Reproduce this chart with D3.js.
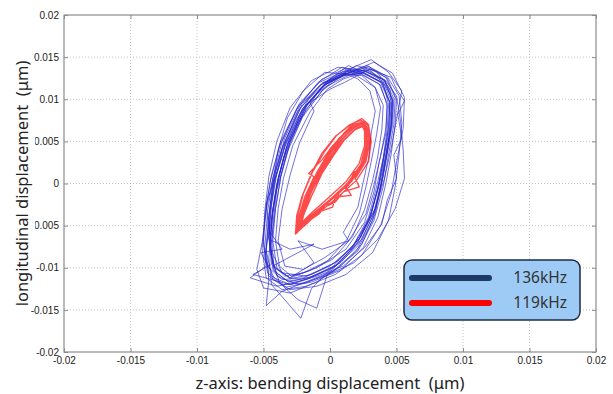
<!DOCTYPE html>
<html>
<head>
<meta charset="utf-8">
<script src="https://cdn.jsdelivr.net/npm/d3@7"></script>
<style>
  body { margin: 0; background: #fff; }
  svg { display: block; }
</style>
</head>
<body>
<div id="chart"></div>
<script>
// tick values / labels
var xTicks = [-0.02, -0.015, -0.01, -0.005, 0, 0.005, 0.01, 0.015, 0.02],
    xTickLabels = ['-0.02', '-0.015', '-0.01', '-0.005', '0', '0.005', '0.01', '0.015', '0.02'],
    yTicks = [-0.02, -0.015, -0.01, -0.005, 0, 0.005, 0.01, 0.015, 0.02],
    yTickLabels = ['-0.02', '-0.015', '-0.01', '-0.005', '0', '0.005', '0.01', '0.015', '0.02'],
    seriesNames = ['136kHz', '119kHz'];

var blueLoops = [
    [[0.0025,0.0132],[0.0039,0.0120],[0.0045,0.0097],[0.0044,0.0068],[0.0041,0.0035],[0.0037,0.0002],[0.0031,-0.0035],[0.0021,-0.0070],[0.0005,-0.0097],[-0.0015,-0.0111],[-0.0031,-0.0117],[-0.0042,-0.0104],[-0.0045,-0.0072],[-0.0043,-0.0032],[-0.0039,0.0005],[-0.0032,0.0047],[-0.0019,0.0090],[-0.0004,0.0118],[0.0011,0.0130]],
    [[0.0028,0.0138],[0.0043,0.0125],[0.0050,0.0100],[0.0049,0.0070],[0.0046,0.0035],[0.0042,0.0000],[0.0036,-0.0040],[0.0025,-0.0076],[0.0008,-0.0103],[-0.0014,-0.0117],[-0.0033,-0.0123],[-0.0046,-0.0110],[-0.0049,-0.0076],[-0.0047,-0.0034],[-0.0043,0.0006],[-0.0036,0.0050],[-0.0023,0.0095],[-0.0006,0.0124],[0.0011,0.0136]],
    [[0.0022,0.0126],[0.0034,0.0114],[0.0040,0.0093],[0.0039,0.0064],[0.0036,0.0033],[0.0032,0.0003],[0.0026,-0.0031],[0.0017,-0.0063],[0.0002,-0.0090],[-0.0016,-0.0104],[-0.0029,-0.0110],[-0.0038,-0.0098],[-0.0041,-0.0068],[-0.0039,-0.0030],[-0.0035,0.0006],[-0.0028,0.0045],[-0.0015,0.0085],[-0.0002,0.0112],[0.0010,0.0124]],
    [[0.0030,0.0135],[0.0041,0.0118],[0.0047,0.0101],[0.0046,0.0070],[0.0043,0.0038],[0.0039,0.0004],[0.0034,-0.0032],[0.0024,-0.0066],[0.0008,-0.0094],[-0.0012,-0.0110],[-0.0030,-0.0120],[-0.0058,-0.0108],[-0.0044,-0.0096],[-0.0046,-0.0062],[-0.0042,-0.0024],[-0.0038,0.0012],[-0.0031,0.0052],[-0.0018,0.0093],[-0.0002,0.0119],[0.0014,0.0131]],
    [[0.0033,0.0144],[0.0047,0.0131],[0.0056,0.0102],[0.0055,0.0065],[0.0050,0.0025],[0.0046,-0.0012],[0.0038,-0.0050],[0.0024,-0.0085],[0.0004,-0.0108],[-0.0018,-0.0122],[-0.0036,-0.0126],[-0.0048,-0.0112],[-0.0051,-0.0078],[-0.0049,-0.0038],[-0.0045,0.0002],[-0.0038,0.0044],[-0.0025,0.0088],[-0.0009,0.0120],[0.0009,0.0138]],
    [[0.0026,0.0131],[0.0040,0.0119],[0.0044,0.0094],[0.0043,0.0064],[0.0040,0.0030],[0.0035,-0.0004],[0.0029,-0.0040],[0.0017,-0.0075],[0.0000,-0.0102],[-0.0014,-0.0125],[-0.0022,-0.0160],[-0.0034,-0.0138],[-0.0044,-0.0120],[-0.0046,-0.0088],[-0.0044,-0.0050],[-0.0041,-0.0012],[-0.0035,0.0030],[-0.0024,0.0072],[-0.0010,0.0106],[0.0004,0.0124],[0.0016,0.0133]],
    [[0.0024,0.0129],[0.0037,0.0118],[0.0043,0.0095],[0.0042,0.0066],[0.0038,0.0032],[0.0033,-0.0002],[0.0027,-0.0036],[0.0014,-0.0068],[-0.0006,-0.0078],[-0.0024,-0.0068],[-0.0012,-0.0094],[-0.0030,-0.0112],[-0.0042,-0.0100],[-0.0044,-0.0068],[-0.0041,-0.0030],[-0.0037,0.0008],[-0.0030,0.0048],[-0.0018,0.0088],[-0.0003,0.0115],[0.0012,0.0127]],
    [[0.0027,0.0136],[0.0041,0.0123],[0.0047,0.0098],[0.0046,0.0068],[0.0042,0.0034],[0.0038,-0.0002],[0.0032,-0.0040],[0.0021,-0.0074],[0.0003,-0.0100],[-0.0018,-0.0114],[-0.0040,-0.0122],[-0.0060,-0.0112],[-0.0048,-0.0098],[-0.0050,-0.0066],[-0.0048,-0.0028],[-0.0044,0.0010],[-0.0037,0.0050],[-0.0024,0.0092],[-0.0008,0.0120],[0.0010,0.0133]],
    [[0.0031,0.0147],[0.0044,0.0132],[0.0054,0.0110],[0.0050,0.0076],[0.0046,0.0042],[0.0041,0.0006],[0.0034,-0.0030],[0.0023,-0.0064],[0.0006,-0.0092],[-0.0014,-0.0108],[-0.0030,-0.0113],[-0.0040,-0.0100],[-0.0043,-0.0068],[-0.0041,-0.0030],[-0.0037,0.0008],[-0.0030,0.0050],[-0.0017,0.0094],[-0.0002,0.0122],[0.0014,0.0140]],
    [[0.0024,0.0132],[0.0038,0.0120],[0.0045,0.0096],[0.0045,0.0064],[0.0042,0.0030],[0.0038,-0.0006],[0.0032,-0.0044],[0.0020,-0.0080],[0.0002,-0.0104],[-0.0020,-0.0118],[-0.0036,-0.0128],[-0.0048,-0.0145],[-0.0046,-0.0114],[-0.0048,-0.0078],[-0.0046,-0.0038],[-0.0042,0.0002],[-0.0034,0.0044],[-0.0021,0.0088],[-0.0005,0.0116],[0.0011,0.0130]],
    [[0.0029,0.0139],[0.0043,0.0127],[0.0052,0.0104],[0.0054,0.0072],[0.0052,0.0036],[0.0049,-0.0004],[0.0044,-0.0044],[0.0032,-0.0082],[0.0012,-0.0108],[-0.0010,-0.0122],[-0.0030,-0.0126],[-0.0043,-0.0114],[-0.0048,-0.0080],[-0.0046,-0.0040],[-0.0043,0.0000],[-0.0036,0.0042],[-0.0024,0.0086],[-0.0008,0.0116],[0.0010,0.0133]],
    [[0.0026,0.0134],[0.0040,0.0121],[0.0046,0.0098],[0.0045,0.0067],[0.0041,0.0034],[0.0037,0.0000],[0.0031,-0.0037],[0.0020,-0.0072],[0.0004,-0.0098],[-0.0016,-0.0112],[-0.0032,-0.0116],[-0.0043,-0.0102],[-0.0045,-0.0070],[-0.0043,-0.0031],[-0.0039,0.0006],[-0.0031,0.0048],[-0.0018,0.0091],[-0.0003,0.0119],[0.0012,0.0131]],
    [[0.0021,0.0124],[0.0030,0.0110],[0.0034,0.0086],[0.0031,0.0060],[0.0029,0.0030],[0.0025,0.0002],[0.0021,-0.0028],[0.0010,-0.0058],[0.0014,-0.0068],[-0.0004,-0.0088],[-0.0020,-0.0102],[-0.0034,-0.0098],[-0.0039,-0.0068],[-0.0036,-0.0030],[-0.0030,0.0010],[-0.0023,0.0048],[-0.0012,0.0086],[-0.0015,0.0096],[0.0000,0.0112],[0.0011,0.0120]],
    [[0.0030,0.0136],[0.0046,0.0126],[0.0050,0.0112],[0.0056,0.0098],[0.0051,0.0082],[0.0054,0.0054],[0.0048,0.0034],[0.0050,0.0006],[0.0043,-0.0020],[0.0039,-0.0048],[0.0026,-0.0076],[0.0010,-0.0098],[-0.0010,-0.0110],[-0.0030,-0.0120],[-0.0042,-0.0112],[-0.0049,-0.0088],[-0.0046,-0.0056],[-0.0048,-0.0024],[-0.0040,0.0012],[-0.0036,0.0040],[-0.0026,0.0074],[-0.0016,0.0100],[-0.0002,0.0121],[0.0014,0.0135]],
    [[0.0024,0.0130],[0.0038,0.0117],[0.0043,0.0092],[0.0042,0.0060],[0.0037,0.0026],[0.0033,-0.0010],[0.0026,-0.0046],[0.0012,-0.0078],[-0.0010,-0.0100],[-0.0030,-0.0112],[-0.0043,-0.0098],[-0.0012,-0.0072],[-0.0030,-0.0078],[-0.0046,-0.0066],[-0.0045,-0.0032],[-0.0041,0.0006],[-0.0033,0.0048],[-0.0020,0.0090],[-0.0004,0.0117],[0.0011,0.0128]],
    [[0.0026,0.0133],[0.0041,0.0123],[0.0048,0.0101],[0.0047,0.0070],[0.0043,0.0036],[0.0039,0.0002],[0.0034,-0.0036],[0.0024,-0.0072],[0.0008,-0.0098],[-0.0010,-0.0117],[-0.0030,-0.0130],[-0.0050,-0.0124],[-0.0055,-0.0102],[-0.0051,-0.0070],[-0.0048,-0.0032],[-0.0043,0.0006],[-0.0035,0.0046],[-0.0022,0.0090],[-0.0006,0.0118],[0.0012,0.0132]],
    [[0.0020,0.0140],[0.0035,0.0133],[0.0045,0.0112],[0.0047,0.0080],[0.0044,0.0044],[0.0040,0.0008],[0.0034,-0.0030],[0.0022,-0.0066],[0.0004,-0.0094],[-0.0018,-0.0110],[-0.0036,-0.0106],[-0.0045,-0.0078],[-0.0046,-0.0040],[-0.0043,0.0000],[-0.0039,0.0040],[-0.0032,0.0078],[-0.0020,0.0110],[-0.0004,0.0132]],
    [[0.0024,0.0128],[0.0034,0.0114],[0.0038,0.0090],[0.0035,0.0058],[0.0031,0.0026],[0.0027,-0.0004],[0.0022,-0.0036],[0.0013,-0.0066],[-0.0002,-0.0092],[-0.0020,-0.0106],[-0.0034,-0.0110],[-0.0043,-0.0096],[-0.0046,-0.0064],[-0.0044,-0.0026],[-0.0040,0.0012],[-0.0033,0.0052],[-0.0021,0.0094],[-0.0006,0.0119],[0.0010,0.0128]],
    [[0.0025,0.0131],[0.0039,0.0120],[0.0045,0.0096],[0.0044,0.0064],[0.0040,0.0030],[0.0036,-0.0006],[0.0029,-0.0044],[0.0015,-0.0080],[-0.0002,-0.0108],[-0.0010,-0.0148],[-0.0024,-0.0138],[-0.0038,-0.0118],[-0.0044,-0.0086],[-0.0043,-0.0048],[-0.0040,-0.0008],[-0.0033,0.0034],[-0.0021,0.0078],[-0.0006,0.0110],[0.0010,0.0129]],
    [[0.0027,0.0135],[0.0041,0.0122],[0.0047,0.0099],[0.0046,0.0068],[0.0042,0.0034],[0.0037,-0.0002],[0.0030,-0.0040],[0.0018,-0.0074],[0.0000,-0.0098],[-0.0020,-0.0112],[-0.0036,-0.0114],[-0.0046,-0.0100],[-0.0052,-0.0082],[-0.0036,-0.0078],[-0.0046,-0.0056],[-0.0044,-0.0022],[-0.0041,0.0014],[-0.0034,0.0054],[-0.0022,0.0094],[-0.0005,0.0120],[0.0013,0.0133]],
    [[0.0028,0.0140],[0.0042,0.0126],[0.0049,0.0102],[0.0048,0.0070],[0.0044,0.0034],[0.0040,-0.0004],[0.0033,-0.0044],[0.0021,-0.0080],[0.0003,-0.0104],[-0.0018,-0.0118],[-0.0035,-0.0120],[-0.0047,-0.0106],[-0.0050,-0.0072],[-0.0049,-0.0032],[-0.0046,0.0008],[-0.0040,0.0050],[-0.0030,0.0090],[-0.0014,0.0122],[0.0006,0.0138]],
    [[0.0026,0.0134],[0.0042,0.0122],[0.0050,0.0104],[0.0053,0.0074],[0.0055,0.0040],[0.0056,0.0006],[0.0049,-0.0030],[0.0036,-0.0066],[0.0018,-0.0094],[-0.0004,-0.0110],[-0.0024,-0.0120],[-0.0040,-0.0110],[-0.0045,-0.0080],[-0.0044,-0.0040],[-0.0040,0.0000],[-0.0033,0.0042],[-0.0021,0.0086],[-0.0005,0.0116],[0.0012,0.0131]]
];

// 119kHz orbit
var redLoops = [
    [[-0.0024,-0.0055],[-0.0022,-0.0035],[-0.0017,-0.0012],[-0.0009,0.0015],[0.0000,0.0038],[0.0008,0.0055],[0.0017,0.0068],[0.0024,0.0073],[0.0028,0.0066],[0.0029,0.0048],[0.0026,0.0025],[0.0016,0.0002],[0.0002,-0.0018],[-0.0012,-0.0035],[-0.0020,-0.0048]],
    [[-0.0025,-0.0058],[-0.0024,-0.0036],[-0.0020,-0.0012],[-0.0013,0.0014],[-0.0004,0.0038],[0.0005,0.0057],[0.0015,0.0070],[0.0023,0.0075],[0.0029,0.0069],[0.0031,0.0050],[0.0029,0.0026],[0.0020,0.0004],[0.0006,-0.0016],[-0.0008,-0.0034],[-0.0019,-0.0050]],
    [[-0.0023,-0.0053],[-0.0019,-0.0034],[-0.0013,-0.0012],[-0.0006,0.0012],[0.0003,0.0034],[0.0011,0.0052],[0.0019,0.0064],[0.0025,0.0068],[0.0027,0.0062],[0.0027,0.0045],[0.0023,0.0022],[0.0013,0.0000],[0.0000,-0.0019],[-0.0013,-0.0036],[-0.0020,-0.0046]],
    [[-0.0024,-0.0056],[-0.0021,-0.0034],[-0.0016,-0.0010],[-0.0008,0.0016],[0.0001,0.0039],[0.0009,0.0056],[0.0018,0.0069],[0.0025,0.0074],[0.0029,0.0068],[0.0030,0.0049],[0.0027,0.0026],[0.0019,0.0006],[0.0022,-0.0004],[0.0010,-0.0010],[0.0004,-0.0022],[-0.0006,-0.0030],[-0.0012,-0.0040],[-0.0021,-0.0050]],
    [[-0.0022,-0.0054],[-0.0021,-0.0033],[-0.0015,-0.0011],[-0.0007,0.0014],[0.0002,0.0036],[0.0010,0.0054],[0.0018,0.0066],[0.0024,0.0071],[0.0027,0.0065],[0.0028,0.0047],[0.0025,0.0024],[0.0015,0.0002],[0.0001,-0.0019],[-0.0012,-0.0036],[-0.0019,-0.0047]],
    [[-0.0026,-0.0060],[-0.0025,-0.0038],[-0.0021,-0.0015],[-0.0014,0.0012],[-0.0006,0.0036],[0.0004,0.0056],[0.0014,0.0068],[0.0022,0.0072],[0.0027,0.0066],[0.0028,0.0048],[0.0025,0.0027],[0.0016,0.0005],[0.0003,-0.0016],[-0.0010,-0.0034],[-0.0021,-0.0052]],
    [[-0.0023,-0.0055],[-0.0020,-0.0035],[-0.0015,-0.0012],[-0.0008,0.0013],[0.0001,0.0037],[0.0010,0.0055],[0.0018,0.0067],[0.0024,0.0072],[0.0028,0.0067],[0.0030,0.0050],[0.0027,0.0028],[0.0018,0.0008],[0.0012,-0.0004],[0.0016,-0.0014],[0.0004,-0.0016],[0.0002,-0.0028],[-0.0009,-0.0034],[-0.0018,-0.0048]],
    [[-0.0024,-0.0057],[-0.0022,-0.0036],[-0.0017,-0.0013],[-0.0010,0.0013],[-0.0001,0.0037],[0.0007,0.0054],[0.0016,0.0067],[0.0023,0.0072],[0.0027,0.0064],[0.0028,0.0046],[0.0025,0.0024],[0.0015,0.0001],[0.0001,-0.0019],[-0.0013,-0.0036],[-0.0021,-0.0049]],
    [[-0.0023,-0.0054],[-0.0020,-0.0034],[-0.0015,-0.0011],[-0.0007,0.0016],[0.0002,0.0040],[0.0010,0.0059],[0.0018,0.0072],[0.0024,0.0077],[0.0029,0.0070],[0.0030,0.0051],[0.0027,0.0028],[0.0017,0.0005],[0.0003,-0.0016],[-0.0011,-0.0034],[-0.0019,-0.0047]],
    [[-0.0025,-0.0059],[-0.0023,-0.0037],[-0.0019,-0.0016],[-0.0012,0.0008],[-0.0016,0.0012],[-0.0006,0.0028],[0.0002,0.0045],[0.0011,0.0060],[0.0020,0.0070],[0.0026,0.0071],[0.0029,0.0062],[0.0029,0.0044],[0.0024,0.0021],[0.0014,0.0000],[0.0000,-0.0020],[-0.0013,-0.0037],[-0.0022,-0.0052]],
    [[-0.0022,-0.0052],[-0.0019,-0.0032],[-0.0014,-0.0010],[-0.0006,0.0014],[0.0003,0.0036],[0.0011,0.0053],[0.0019,0.0065],[0.0024,0.0069],[0.0026,0.0062],[0.0026,0.0045],[0.0022,0.0024],[0.0012,0.0002],[-0.0002,-0.0018],[-0.0014,-0.0035],[-0.0021,-0.0046]],
    [[-0.0024,-0.0056],[-0.0021,-0.0035],[-0.0016,-0.0012],[-0.0009,0.0014],[0.0000,0.0038],[0.0008,0.0055],[0.0017,0.0068],[0.0024,0.0073],[0.0028,0.0066],[0.0029,0.0048],[0.0027,0.0030],[0.0022,0.0014],[0.0018,0.0014],[0.0014,-0.0002],[0.0007,-0.0010],[0.0005,-0.0020],[-0.0004,-0.0026],[-0.0008,-0.0036],[-0.0020,-0.0049]]
];

var width      = 613,
    height     = 394,
    plotLeft   = 64,
    plotRight  = 596,
    plotTop    = 15,
    plotBottom = 352,
    AXIS       = '#8c8c8c',
    FONT       = 'Arial, "Liberation Sans", sans-serif',
    TITLE_FONT = '"Noto Sans", "Open Sans", sans-serif',
    svg = d3.select('#chart').append('svg')
        .attr('width', width)
        .attr('height', height);

var x = d3.scaleLinear().domain([-0.02, 0.02]).range([plotLeft, plotRight]),
    y = d3.scaleLinear().domain([-0.02, 0.02]).range([plotBottom, plotTop]);

// dotted grid
svg.append('g').selectAll('line')
    .data(xTicks.slice(1, -1))
    .enter().append('line')
    .attr('x1', function(d) { return x(d); })
    .attr('x2', function(d) { return x(d); })
    .attr('y1', plotTop).attr('y2', plotBottom)
    .style('stroke', '#c4c4c4')
    .style('stroke-width', 1)
    .style('stroke-dasharray', '1,2');
svg.append('g').selectAll('line')
    .data(yTicks.slice(1, -1))
    .enter().append('line')
    .attr('y1', function(d) { return y(d); })
    .attr('y2', function(d) { return y(d); })
    .attr('x1', plotLeft).attr('x2', plotRight)
    .style('stroke', '#c4c4c4')
    .style('stroke-width', 1)
    .style('stroke-dasharray', '1,2');

// orbits
var line = d3.line()
    .x(function(d) { return x(d[0]); })
    .y(function(d) { return y(d[1]); });

svg.append('path')
    .datum([].concat.apply([], blueLoops))
    .attr('d', line)
    .style('fill', 'none')
    .style('stroke', '#2424cc')
    .style('stroke-opacity', 0.72)
    .style('stroke-width', 0.9)
    .style('stroke-linejoin', 'round');

svg.append('path')
    .datum([].concat.apply([], redLoops))
    .attr('d', line)
    .style('fill', 'none')
    .style('stroke', '#ff0d0d')
    .style('stroke-opacity', 0.75)
    .style('stroke-width', 1.3)
    .style('stroke-linejoin', 'round');

// axes box + ticks on all four sides (inside)
svg.append('rect')
    .attr('x', plotLeft).attr('y', plotTop)
    .attr('width', plotRight - plotLeft).attr('height', plotBottom - plotTop)
    .style('fill', 'none')
    .style('stroke', AXIS)
    .style('stroke-width', 1.2);

svg.append('g')
    .attr('transform', 'translate(0,' + plotBottom + ')')
    .call(d3.axisBottom(x).tickValues(xTicks).tickSizeInner(-4).tickSizeOuter(0)
        .tickFormat(function(d, i) { return xTickLabels[i]; }))
    .call(function(g) {
        g.select('.domain').remove();
        g.selectAll('line').style('stroke', AXIS);
        g.selectAll('text').attr('y', 5)
            .style('font-family', FONT).style('font-size', '10px').style('fill', '#222');
    });
svg.append('g')
    .attr('transform', 'translate(0,' + plotTop + ')')
    .call(d3.axisTop(x).tickValues(xTicks).tickSizeInner(-4).tickSizeOuter(0).tickFormat(''))
    .call(function(g) {
        g.select('.domain').remove();
        g.selectAll('line').style('stroke', AXIS);
    });
svg.append('g')
    .attr('transform', 'translate(' + plotLeft + ',0)')
    .call(d3.axisLeft(y).tickValues(yTicks).tickSizeInner(-4).tickSizeOuter(0)
        .tickFormat(function(d, i) { return yTickLabels[i]; }))
    .call(function(g) {
        g.select('.domain').remove();
        g.selectAll('line').style('stroke', AXIS);
        g.selectAll('text').attr('x', -5)
            .style('font-family', FONT).style('font-size', '10px').style('fill', '#222');
    });
svg.append('g')
    .attr('transform', 'translate(' + plotRight + ',0)')
    .call(d3.axisRight(y).tickValues(yTicks).tickSizeInner(-4).tickSizeOuter(0).tickFormat(''))
    .call(function(g) {
        g.select('.domain').remove();
        g.selectAll('line').style('stroke', AXIS);
    });

// axis titles
svg.append('text')
    .attr('x', (plotLeft + plotRight) / 2)
    .attr('y', 389)
    .attr('text-anchor', 'middle')
    .style('font-family', TITLE_FONT)
    .style('font-size', '16.5px')
    .style('fill', '#222')
    .style('white-space', 'pre')
    .text('z-axis: bending displacement  (\u03bcm)');

var yTitle = svg.append('g')
    .attr('transform', 'translate(28,' + ((plotTop + plotBottom) / 2) + ') rotate(-90)');
var yTitleText = yTitle.append('text')
    .attr('text-anchor', 'middle')
    .style('font-family', TITLE_FONT)
    .style('font-size', '16.5px')
    .style('fill', '#222')
    .style('white-space', 'pre')
    .text('longitudinal displacement  (\u03bcm)');
var bb = yTitleText.node().getBBox();
yTitle.insert('rect', 'text')
    .attr('x', bb.x - 2).attr('y', bb.y - 1)
    .attr('width', bb.width + 4).attr('height', bb.height + 3)
    .style('fill', '#fff');

// legend
var legend = svg.append('g').attr('transform', 'translate(404,260)');
legend.append('rect')
    .attr('width', 176).attr('height', 60)
    .attr('rx', 8).attr('ry', 8)
    .style('fill', '#9dcbf6')
    .style('stroke', '#1e2b45')
    .style('stroke-width', 1.5);
legend.selectAll('.item')
    .data(seriesNames)
    .enter().append('g')
    .attr('class', 'item')
    .attr('transform', function(d, i) { return 'translate(0,' + (18 + i * 25) + ')'; })
    .each(function(d, i) {
        var g = d3.select(this);
        g.append('line')
            .attr('x1', 8).attr('x2', 85)
            .style('stroke', i ? '#ff0000' : '#1b3a66')
            .style('stroke-width', 6)
            .style('stroke-linecap', 'round');
        g.append('text')
            .attr('x', 163).attr('y', 5)
            .attr('text-anchor', 'end')
            .style('font-family', TITLE_FONT)
            .style('font-size', '15.5px')
            .style('fill', '#333')
            .text(d);
    });
</script>
</body>
</html>
